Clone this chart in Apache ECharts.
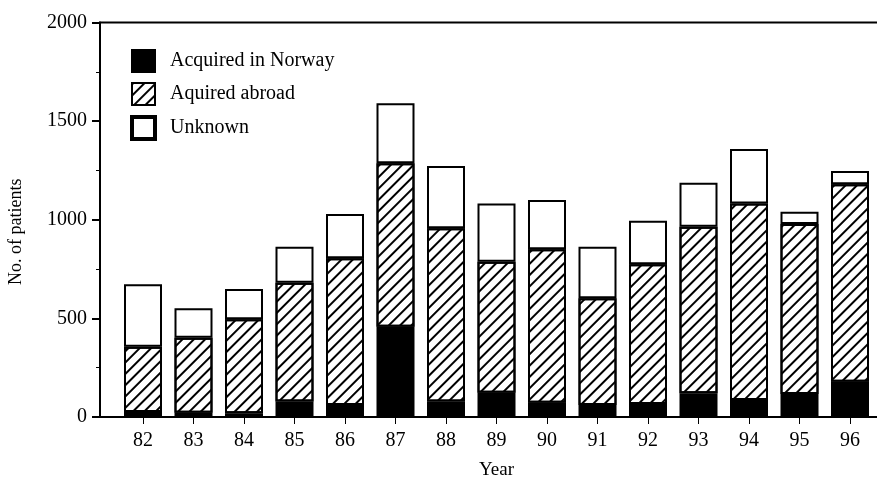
<!DOCTYPE html>
<html>
<head>
<meta charset="utf-8">
<script src="https://cdn.jsdelivr.net/npm/echarts@6/dist/echarts.min.js"></script>
<style>
html,body{margin:0;padding:0;background:#fff;}
#c{width:877px;height:478px;}
</style>
</head>
<body>
<div id="c"></div>
<script>
var years = ['82', '83', '84', '85', '86', '87', '88', '89', '90', '91', '92', '93', '94', '95', '96'];
var acquiredNorway = [25, 22, 19, 78, 61, 458, 78, 123, 72, 61, 66, 120, 86, 117, 179];
var acquiredAbroad = [331, 380, 476, 603, 744, 828, 879, 664, 778, 541, 708, 845, 997, 861, 1001];
var unknown = [317, 149, 154, 182, 224, 304, 315, 296, 250, 261, 221, 223, 276, 63, 67];
var yMin = 0, yMax = 2000, yStep = 500;

var FONT = 'Liberation Serif';

var hatch = {
  symbol: 'rect', symbolSize: 1, color: '#000',
  dashArrayX: [1, 0], dashArrayY: [1.3, 6], rotation: -Math.PI / 4
};

var chart = echarts.init(document.getElementById('c'), null, {renderer: 'canvas'});
chart.setOption({
  backgroundColor: '#fff',
  animation: false,
  grid: [
    {left: 117.75, right: 1.75, top: 22.5, bottom: 61, show: false, outerBoundsMode: 'none', containLabel: false},
    {left: 100, right: -3, top: 22.5, bottom: 61, show: true, borderColor: '#000', borderWidth: 2,
     backgroundColor: 'transparent', outerBoundsMode: 'none', containLabel: false}
  ],
  legend: {
    orient: 'vertical', left: 130, top: 49, padding: 0,
    itemWidth: 23, itemHeight: 22, itemGap: 9,
    textStyle: {fontFamily: FONT, fontSize: 20, color: '#000', padding: [0, 0, 0, 10]},
    data: [
      {name: 'Acquired in Norway', icon: 'rect'},
      {name: 'Aquired abroad', icon: 'rect', itemStyle: {borderWidth: 2}},
      {name: 'Unknown', icon: 'rect', itemStyle: {borderWidth: 4}}
    ]
  },
  xAxis: [
    {
      gridIndex: 0, type: 'category', data: years, boundaryGap: true,
      name: 'Year', nameLocation: 'middle', nameGap: 44,
      nameTextStyle: {fontFamily: FONT, fontSize: 19, color: '#000'},
      axisLine: {show: false},
      axisTick: {show: true, alignWithLabel: true, length: 7, lineStyle: {color: '#000', width: 1}},
      axisLabel: {fontFamily: FONT, fontSize: 20, color: '#000', margin: 14},
      splitLine: {show: false}
    },
    {
      gridIndex: 1, type: 'value', min: 0, max: 1,
      axisLine: {show: true, lineStyle: {color: '#000', width: 2}},
      axisTick: {show: false}, axisLabel: {show: false}, splitLine: {show: false}
    }
  ],
  yAxis: [
    {
      gridIndex: 0, type: 'value', min: yMin, max: yMax, interval: yStep,
      axisLine: {show: false}, axisTick: {show: false}, axisLabel: {show: false}, splitLine: {show: false}
    },
    {
      gridIndex: 1, type: 'value', min: yMin, max: yMax, interval: yStep,
      name: 'No. of patients', nameLocation: 'middle', nameGap: 75,
      nameTextStyle: {fontFamily: FONT, fontSize: 18, color: '#000', padding: [0, 0, 0, -24]},
      axisLine: {show: true, lineStyle: {color: '#000', width: 2}},
      axisTick: {show: true, length: 8, lineStyle: {color: '#000', width: 2}},
      minorTick: {show: true, splitNumber: 2, length: 4, lineStyle: {color: '#000', width: 1}},
      axisLabel: {fontFamily: FONT, fontSize: 20, color: '#000', margin: 13,
                  formatter: function (v) { return String(v); }},
      splitLine: {show: false}
    }
  ],
  series: [
    {name: 'Acquired in Norway', type: 'bar', stack: 'all', barWidth: 38, xAxisIndex: 0, yAxisIndex: 0,
     itemStyle: {color: '#000', borderColor: '#000', borderWidth: 1.5},
     data: acquiredNorway},
    {name: 'Aquired abroad', type: 'bar', stack: 'all', barWidth: 38, xAxisIndex: 0, yAxisIndex: 0,
     itemStyle: {color: '#fff', borderColor: '#000', borderWidth: 2, decal: hatch},
     data: acquiredAbroad},
    {name: 'Unknown', type: 'bar', stack: 'all', barWidth: 38, xAxisIndex: 0, yAxisIndex: 0,
     itemStyle: {color: '#fff', borderColor: '#000', borderWidth: 2},
     data: unknown}
  ]
});
</script>
</body>
</html>
